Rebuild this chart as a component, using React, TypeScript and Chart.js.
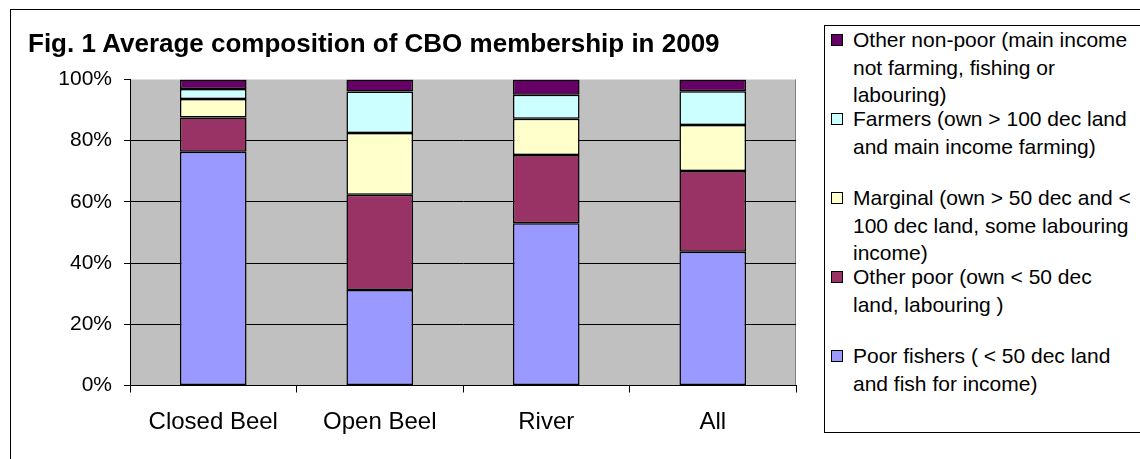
import React, { useEffect, useRef } from 'react';
import { Chart, registerables } from 'chart.js';

Chart.register(...registerables);

const categories = ['Closed Beel', 'Open Beel', 'River', 'All'];
const poorFishers = [76.4, 31.2, 53.0, 43.7];
const otherPoor = [11.2, 31.1, 22.3, 26.4];
const marginal = [6.0, 20.2, 11.9, 15.0];
const farmers = [3.3, 13.6, 7.8, 11.1];
const otherNonPoor = [3.1, 3.9, 5.0, 3.8];
const yTicks = [0, 20, 40, 60, 80, 100];

const titleText = 'Fig. 1 Average composition of CBO membership in 2009';

const seriesNames = [
  'Poor fishers ( < 50 dec land and fish for income)',
  'Other poor (own < 50 dec land, labouring )',
  'Marginal (own > 50 dec and < 100 dec land, some labouring income)',
  'Farmers (own > 100 dec land and main income farming)',
  'Other non-poor (main income not farming, fishing or labouring)',
];
const seriesColors = ['#9999FF', '#993366', '#FFFFCC', '#CCFFFF', '#660066'];

// legend, top to bottom, wrapped as in the reference
const legendLines = [
  ['Other non-poor (main income', 'not farming, fishing or', 'labouring)'],
  ['Farmers (own > 100 dec land', 'and main income farming)'],
  ['Marginal (own > 50 dec and <', '100 dec land, some labouring', 'income)'],
  ['Other poor (own < 50 dec', 'land, labouring )'],
  ['Poor fishers ( < 50 dec land', 'and fish for income)'],
];
const legendColors = ['#660066', '#CCFFFF', '#FFFFCC', '#993366', '#9999FF'];

const FONT = '"Liberation Sans", Arial, sans-serif';

const plotBg = {
  id: 'plotBg',
  beforeDraw(chart: any) {
    const { ctx, chartArea } = chart;
    ctx.save();
    ctx.fillStyle = '#C0C0C0';
    ctx.fillRect(chartArea.left, chartArea.top, chartArea.right - chartArea.left, chartArea.bottom - chartArea.top);
    ctx.strokeStyle = '#808080';
    ctx.lineWidth = 1;
    ctx.beginPath();
    ctx.moveTo(chartArea.right - 0.5, chartArea.top);
    ctx.lineTo(chartArea.right - 0.5, chartArea.bottom);
    ctx.stroke();
    ctx.restore();
  },
};

export default function App() {
  const ref = useRef<HTMLCanvasElement>(null);

  useEffect(() => {
    const seriesData = [poorFishers, otherPoor, marginal, farmers, otherNonPoor];
    const chart = new Chart(ref.current!, {
      type: 'bar',
      data: {
        labels: categories,
        datasets: seriesData.map((d, i) => ({
          label: seriesNames[i],
          data: d,
          backgroundColor: seriesColors[i],
          borderColor: '#000',
          borderWidth: 1.5,
          borderSkipped: false,
          inflateAmount: 0,
          barPercentage: 0.4,
          categoryPercentage: 1,
        })),
      },
      options: {
        responsive: false,
        maintainAspectRatio: false,
        animation: false,
        layout: { padding: { top: 79.5, left: 0, right: 24, bottom: 0 } },
        plugins: {
          legend: { display: false },
          title: { display: false },
          tooltip: { enabled: false },
        },
        scales: {
          x: {
            stacked: true,
            offset: true,
            grid: {
              offset: true,
              drawOnChartArea: false,
              drawTicks: true,
              tickLength: 7,
              tickColor: '#000',
            },
            border: { color: '#000', width: 1 },
            ticks: {
              color: '#000',
              padding: 15,
              font: { family: FONT, size: 24 },
            },
            afterFit: (s: any) => {
              s.height = 73.5;
            },
          },
          y: {
            stacked: true,
            min: 0,
            max: 100,
            afterBuildTicks: (s: any) => {
              s.ticks = yTicks.map((v) => ({ value: v }));
            },
            ticks: {
              color: '#000',
              padding: 12,
              font: { family: FONT, size: 21 },
              callback: (v: any) => v + '%',
            },
            grid: {
              color: (c: any) => (c.tick && c.tick.value === 100 ? 'rgba(0,0,0,0)' : '#000'),
              tickColor: '#000',
              tickLength: 6,
              lineWidth: 1,
            },
            border: { color: '#000', width: 1 },
            afterFit: (s: any) => {
              s.width = 130;
            },
          },
        },
      },
      plugins: [plotBg],
    });
    return () => chart.destroy();
  }, []);

  return (
    <div
      style={{
        position: 'absolute',
        left: 0,
        top: 0,
        width: 1140,
        height: 459,
        overflow: 'hidden',
        background: '#fff',
        fontFamily: FONT,
        color: '#000',
      }}
    >
      <div
        style={{
          position: 'absolute',
          left: 10,
          top: 9,
          width: 1300,
          height: 700,
          border: '1px solid #000',
        }}
      />
      <canvas
        ref={ref}
        width={820}
        height={459}
        style={{ position: 'absolute', left: 0, top: 0, width: 820, height: 459 }}
      />
      <div
        style={{
          position: 'absolute',
          left: 28,
          top: 30,
          fontSize: 26,
          lineHeight: '26px',
          fontWeight: 'bold',
          whiteSpace: 'nowrap',
        }}
      >
        {titleText}
      </div>
      <div
        style={{
          position: 'absolute',
          left: 824,
          top: 25,
          width: 400,
          height: 406,
          border: '1px solid #000',
          background: '#fff',
        }}
      />
      {legendLines.map((lines, i) => {
        const center = 40 + 79 * i;
        return (
          <React.Fragment key={i}>
            <div
              style={{
                position: 'absolute',
                left: 831,
                top: center - 6,
                width: 10,
                height: 10,
                background: legendColors[i],
                border: '1.5px solid #000',
              }}
            />
            <div
              style={{
                position: 'absolute',
                left: 853,
                top: center - 13.75,
                fontSize: 21,
                lineHeight: '27.5px',
                whiteSpace: 'nowrap',
              }}
            >
              {lines.map((l, j) => (
                <div key={j}>{l}</div>
              ))}
            </div>
          </React.Fragment>
        );
      })}
    </div>
  );
}
